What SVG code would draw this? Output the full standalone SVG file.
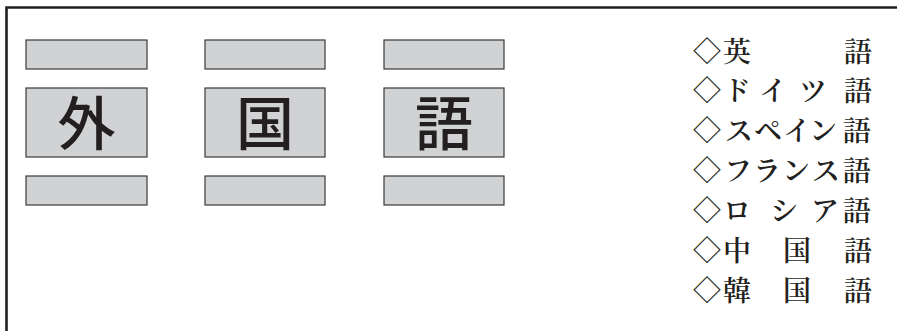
<svg xmlns="http://www.w3.org/2000/svg" width="897" height="331" viewBox="0 0 897 331">
<style>
.frame{fill:none;stroke:#231f20;stroke-width:2.6}
.box{fill:#d1d2d4;stroke:#3a3a3a;stroke-width:1.2}
.big{font-family:"Noto Sans CJK JP","Noto Sans CJK SC",sans-serif;font-size:58px;font-weight:500;fill:#231f20;text-anchor:middle}
.list{font-family:"Noto Serif CJK JP","Noto Sans CJK JP",serif;font-size:28px;font-weight:600;fill:#231f20;text-anchor:middle}
</style>
<rect x="0" y="0" width="897" height="331" fill="#ffffff"/>
<path class="frame" d="M6.5,331 V7.5 H897"/>
<g id="col1">
<rect class="box" x="26" y="40" width="121" height="29"/>
<rect class="box" x="26" y="88" width="121" height="69"/>
<text class="big" x="86.5" y="144.5">外</text>
<rect class="box" x="26" y="176" width="121" height="29"/>
</g>
<g id="col2">
<rect class="box" x="205" y="40" width="120" height="29"/>
<rect class="box" x="205" y="88" width="120" height="69"/>
<text class="big" x="265" y="144.5">国</text>
<rect class="box" x="205" y="176" width="120" height="29"/>
</g>
<g id="col3">
<rect class="box" x="384" y="40" width="120" height="29"/>
<rect class="box" x="384" y="88" width="120" height="69"/>
<text class="big" x="444" y="144.5">語</text>
<rect class="box" x="384" y="176" width="120" height="29"/>
</g>
<g id="list" class="list">
<text y="61.5"><tspan x="707">◇</tspan><tspan x="737">英</tspan><tspan x="858">語</tspan></text>
<text y="101"><tspan x="707">◇</tspan><tspan x="737">ド</tspan><tspan x="773">イ</tspan><tspan x="813">ツ</tspan><tspan x="858">語</tspan></text>
<text y="140.5"><tspan x="707">◇</tspan><tspan x="739">ス</tspan><tspan x="768">ペ</tspan><tspan x="797">イ</tspan><tspan x="823">ン</tspan><tspan x="857">語</tspan></text>
<text y="180.5"><tspan x="707">◇</tspan><tspan x="738">フ</tspan><tspan x="767">ラ</tspan><tspan x="796">ン</tspan><tspan x="826">ス</tspan><tspan x="857">語</tspan></text>
<text y="220.5"><tspan x="707">◇</tspan><tspan x="737">ロ</tspan><tspan x="784">シ</tspan><tspan x="825">ア</tspan><tspan x="857">語</tspan></text>
<text y="260.5"><tspan x="707">◇</tspan><tspan x="737">中</tspan><tspan x="797">国</tspan><tspan x="858">語</tspan></text>
<text y="300.5"><tspan x="707">◇</tspan><tspan x="737">韓</tspan><tspan x="797">国</tspan><tspan x="858">語</tspan></text>
</g>
</svg>
